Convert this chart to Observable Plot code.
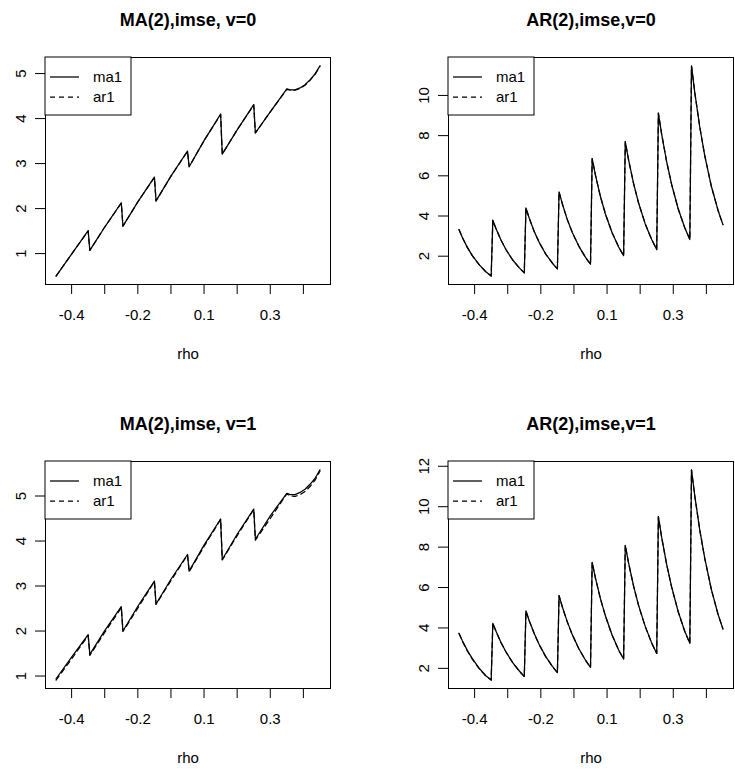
<!DOCTYPE html>
<html><head><meta charset="utf-8">
<script src="https://cdn.jsdelivr.net/npm/d3@7"></script>
<script src="https://cdn.jsdelivr.net/npm/@observablehq/plot@0.6"></script>
<style>
body{margin:0;background:#fff;}
#wrap{position:relative;width:735px;height:771px;background:#fff;overflow:hidden;}
#wrap svg{position:absolute;overflow:visible;}
</style></head><body><div id="wrap"></div>
<script>
// ---- data ----
const seriesNames = ["ma1", "ar1"];
const xTickPos = [0, 1, 2, 3, 4, 5, 6, 7];
const xTickLabels = ["-0.4", "", "-0.2", "", "0.1", "", "0.3", ""];

// MA panels: grid positions along the rho axis
const xMA = [-0.47, 0.0, 0.5, 0.55, 1.0, 1.5, 1.55, 2.0, 2.5, 2.55, 3.0, 3.5, 3.55, 4.0, 4.5, 4.55, 5.0, 5.5, 5.55, 6.0, 6.5, 6.6, 6.75, 6.9, 7.05, 7.2, 7.35, 7.5];
const maV0_ma1 = [0.50, 0.99, 1.51, 1.07, 1.59, 2.13, 1.61, 2.15, 2.70, 2.17, 2.72, 3.28, 2.93, 3.51, 4.10, 3.21, 3.75, 4.31, 3.68, 4.15, 4.66, 4.64, 4.64, 4.68, 4.75, 4.86, 4.99, 5.17];
const maV0_ar1 = [0.50, 0.99, 1.50, 1.07, 1.59, 2.12, 1.61, 2.15, 2.69, 2.17, 2.72, 3.27, 2.93, 3.51, 4.09, 3.21, 3.75, 4.30, 3.68, 4.15, 4.65, 4.63, 4.63, 4.67, 4.74, 4.85, 4.98, 5.16];
const maV1_ma1 = [0.94, 1.42, 1.92, 1.48, 2.01, 2.54, 2.00, 2.55, 3.11, 2.60, 3.15, 3.70, 3.33, 3.91, 4.49, 3.59, 4.15, 4.71, 4.04, 4.56, 5.06, 5.03, 5.03, 5.08, 5.15, 5.26, 5.39, 5.58];
const maV1_ar1 = [0.91, 1.38, 1.90, 1.46, 1.97, 2.52, 1.99, 2.51, 3.10, 2.59, 3.12, 3.69, 3.32, 3.88, 4.48, 3.58, 4.12, 4.70, 4.02, 4.50, 5.05, 5.00, 4.99, 5.03, 5.10, 5.21, 5.35, 5.55];

// AR panels
const xAR = [-0.47, -0.37, -0.22, -0.07, 0.13, 0.33, 0.5,
  0.55, 0.65, 0.8, 0.95, 1.15, 1.35, 1.5,
  1.55, 1.65, 1.8, 1.95, 2.15, 2.35, 2.5,
  2.55, 2.65, 2.8, 2.95, 3.15, 3.35, 3.5,
  3.55, 3.65, 3.8, 3.95, 4.15, 4.35, 4.5,
  4.55, 4.65, 4.8, 4.95, 5.15, 5.35, 5.5,
  5.55, 5.65, 5.8, 5.95, 6.15, 6.35, 6.5,
  6.55, 6.65, 6.8, 6.95, 7.15, 7.35, 7.5];
const arV0_ma1 = [3.32, 2.93, 2.44, 2.03, 1.59, 1.24, 1.01,
  3.79, 3.35, 2.79, 2.32, 1.81, 1.42, 1.17,
  4.40, 3.89, 3.23, 2.69, 2.10, 1.65, 1.37,
  5.20, 4.60, 3.82, 3.18, 2.49, 1.94, 1.60,
  6.85, 6.03, 4.97, 4.10, 3.18, 2.46, 2.03,
  7.70, 6.79, 5.62, 4.66, 3.62, 2.82, 2.33,
  9.12, 8.06, 6.70, 5.57, 4.35, 3.40, 2.83,
  11.47, 10.14, 8.43, 7.01, 5.48, 4.29, 3.57];
const arV0_ar1 = [3.32, 2.93, 2.44, 2.03, 1.59, 1.24, 1.01,
  3.79, 3.35, 2.79, 2.32, 1.81, 1.42, 1.17,
  4.40, 3.89, 3.23, 2.69, 2.10, 1.65, 1.37,
  5.20, 4.60, 3.82, 3.18, 2.49, 1.94, 1.60,
  6.85, 6.03, 4.97, 4.10, 3.18, 2.46, 2.03,
  7.70, 6.79, 5.62, 4.66, 3.62, 2.82, 2.33,
  9.12, 8.06, 6.70, 5.57, 4.35, 3.40, 2.83,
  11.47, 10.14, 8.43, 7.01, 5.48, 4.29, 3.57];
const arV1_ma1 = [3.73, 3.37, 2.89, 2.48, 2.02, 1.65, 1.42,
  4.23, 3.82, 3.27, 2.81, 2.29, 1.87, 1.60,
  4.84, 4.36, 3.73, 3.18, 2.58, 2.10, 1.79,
  5.60, 5.04, 4.30, 3.67, 2.97, 2.40, 2.05,
  7.25, 6.47, 5.45, 4.60, 3.66, 2.91, 2.46,
  8.09, 7.22, 6.08, 5.13, 4.09, 3.25, 2.74,
  9.51, 8.48, 7.15, 6.03, 4.80, 3.82, 3.24,
  11.82, 10.53, 8.85, 7.45, 5.91, 4.69, 3.95];
const arV1_ar1 = [3.73, 3.35, 2.86, 2.46, 2.00, 1.64, 1.42,
  4.23, 3.81, 3.26, 2.80, 2.28, 1.86, 1.60,
  4.84, 4.35, 3.72, 3.17, 2.57, 2.09, 1.79,
  5.60, 5.03, 4.29, 3.66, 2.96, 2.40, 2.05,
  7.25, 6.46, 5.44, 4.59, 3.65, 2.90, 2.46,
  8.09, 7.21, 6.07, 5.12, 4.08, 3.24, 2.74,
  9.51, 8.47, 7.14, 6.02, 4.79, 3.81, 3.24,
  11.82, 10.52, 8.84, 7.44, 5.90, 4.68, 3.95];

const titles = ["MA(2),imse, v=0", "AR(2),imse,v=0", "MA(2),imse, v=1", "AR(2),imse,v=1"];
const xLabel = "rho";
const yTicksMA = [1, 2, 3, 4, 5];
const yTicksAR0 = [2, 4, 6, 8, 10];
const yTicksAR1 = [2, 4, 6, 8, 10, 12];

// ---- drawing ----
const FONT = '"Liberation Sans", Arial, Helvetica, sans-serif';
const xLabelOf = new Map(xTickPos.map((p, i) => [p, xTickLabels[i]]));

function legendMark(index, scales, values, dims) {
  const g = d3.create("svg:g");
  const x0 = dims.marginLeft, y0 = dims.marginTop;
  g.append("rect").attr("x", x0).attr("y", y0).attr("width", 86).attr("height", 58)
    .attr("fill", "white").attr("stroke", "#000").attr("stroke-width", 1);
  seriesNames.forEach((name, i) => {
    const yy = y0 + 20 + i * 20;
    g.append("line").attr("x1", x0 + 5).attr("x2", x0 + 34).attr("y1", yy).attr("y2", yy)
      .attr("stroke", "#000").attr("stroke-width", 1.25)
      .attr("stroke-dasharray", i === 1 ? "5,4" : null);
    g.append("text").attr("x", x0 + 48).attr("y", yy).attr("dy", "0.35em")
      .attr("text-anchor", "start").attr("font-size", 15).attr("fill", "#000").text(name);
  });
  return g.node();
}

function panel(cfg) {
  const {title, x, ma, ar, yTicks, left, top, width, height, m} = cfg;
  const maRows = x.map((xv, i) => ({x: xv, y: ma[i]}));
  const arRows = x.map((xv, i) => ({x: xv, y: ar[i]}));
  const [ylo, yhi] = d3.extent(ma.concat(ar));
  const [xlo, xhi] = d3.extent(x);
  const py = 0.04 * (yhi - ylo), px = 0.04 * (xhi - xlo);
  const svg = Plot.plot({
    width, height,
    marginLeft: m[0], marginTop: m[1], marginRight: m[2], marginBottom: m[3],
    x: {domain: [xlo - px, xhi + px]},
    y: {domain: [ylo - py, yhi + py]},
    style: {fontFamily: FONT, fontSize: "15px", background: "transparent", overflow: "visible", color: "#000"},
    marks: [
      Plot.frame({stroke: "#000", strokeWidth: 1}),
      Plot.axisX({ticks: xTickPos, tickFormat: d => xLabelOf.get(d), tickSize: 10, tickPadding: 15, fontSize: 15, label: null}),
      Plot.axisY({ticks: yTicks, tickFormat: d => String(d), tickSize: 10, tickPadding: 10, tickRotate: -90, fontSize: 15, label: null}),
      Plot.line(maRows, {x: "x", y: "y", stroke: "#000", strokeWidth: 1.25}),
      Plot.line(arRows, {x: "x", y: "y", stroke: "#000", strokeWidth: 1.25, strokeDasharray: "5,4"}),
      legendMark,
      Plot.text([title], {frameAnchor: "top", text: d => d, dy: -32, lineAnchor: "bottom", fontSize: 18, fontWeight: "bold", fill: "#000"}),
      Plot.text([xLabel], {frameAnchor: "bottom", text: d => d, dy: 74, lineAnchor: "bottom", fontSize: 15, fill: "#000"})
    ]
  });
  svg.style.left = left + "px";
  svg.style.top = top + "px";
  document.getElementById("wrap").appendChild(svg);
}

panel({title: titles[0], x: xMA, ma: maV0_ma1, ar: maV0_ar1, yTicks: yTicksMA,
  left: 0, top: 0, width: 367, height: 385, m: [45, 57, 37, 101]});
panel({title: titles[1], x: xAR, ma: arV0_ma1, ar: arV0_ar1, yTicks: yTicksAR0,
  left: 367, top: 0, width: 368, height: 385, m: [81, 57, 2, 101]});
panel({title: titles[2], x: xMA, ma: maV1_ma1, ar: maV1_ar1, yTicks: yTicksMA,
  left: 0, top: 385, width: 367, height: 386, m: [45, 76, 37, 83]});
panel({title: titles[3], x: xAR, ma: arV1_ma1, ar: arV1_ar1, yTicks: yTicksAR1,
  left: 367, top: 385, width: 368, height: 386, m: [81, 76, 2, 83]});
</script></body></html>
